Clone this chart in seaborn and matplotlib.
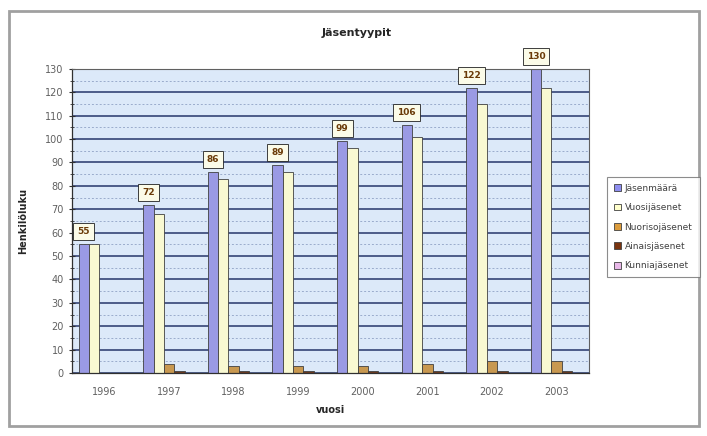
import pandas as pd
import numpy as np
import seaborn as sns
import matplotlib.pyplot as plt
from matplotlib.patches import Rectangle
from matplotlib.ticker import MultipleLocator, FixedLocator

# Data
vuodet = ['1996', '1997', '1998', '1999', '2000', '2001', '2002', '2003']
jasenmaara = [55, 72, 86, 89, 99, 106, 122, 130]
vuosijasenet = [55, 68, 83, 86, 96, 101, 115, 122]
nuorisojasenet = [0, 4, 3, 3, 3, 4, 5, 5]
ainaisjasenet = [0, 1, 1, 1, 1, 1, 1, 1]
kunniajasenet = [0, 0, 0, 0, 0, 0, 0, 0]

tyypit = ['Jäsenmäärä', 'Vuosijäsenet', 'Nuorisojäsenet', 'Ainaisjäsenet', 'Kunniajäsenet']
varit = ['#8e8ef0', '#ffffcc', '#dc9c3c', '#7a3510', '#e8b8e8']

sarjat = [jasenmaara, vuosijasenet, nuorisojasenet, ainaisjasenet, kunniajasenet]
df = pd.DataFrame({
    'vuosi': vuodet * len(tyypit),
    'tyyppi': np.repeat(tyypit, len(vuodet)),
    'arvo': np.concatenate(sarjat),
})

sns.set_style('white')
plt.rcParams['font.family'] = ['DejaVu Sans']

fig = plt.figure(figsize=(7.07, 4.36), dpi=100)
ax = fig.add_axes([0.102, 0.1445, 0.731, 0.6975])

# outer chart frame
fig.patches.append(Rectangle((9 / 707, 10 / 436), 690 / 707, 415 / 436, transform=fig.transFigure,
                             fill=False, edgecolor='#a0a0a0', linewidth=2.0))

sns.barplot(data=df, x='vuosi', y='arvo', hue='tyyppi', hue_order=tyypit, palette=varit,
            width=0.8, edgecolor='#404040', linewidth=0.6, ax=ax, legend=False)

ax.set_facecolor('#dce9f9')
ax.set_xlim(-0.5, 7.5)
ax.set_ylim(0, 130)
ax.yaxis.set_major_locator(MultipleLocator(10))
ax.yaxis.set_minor_locator(MultipleLocator(5))
ax.grid(axis='y', which='major', color='#26366a', linewidth=1.1)
ax.grid(axis='y', which='minor', color='#9aaccc', linewidth=0.7, linestyle=(0, (2, 2)))
ax.set_axisbelow(True)

# category boundaries as ticks, labels at centres
ax.xaxis.set_major_locator(FixedLocator(np.arange(-0.5, 8, 1)))
ax.xaxis.set_minor_locator(FixedLocator(np.arange(0, 8)))
ax.set_xticklabels([''] * 9)
ax.set_xticklabels(vuodet, minor=True)
ax.tick_params(axis='x', which='major', length=4, direction='inout', color='#303030')
ax.tick_params(axis='x', which='minor', length=0, pad=10, labelsize=7, labelcolor='#606060')
ax.tick_params(axis='y', which='major', length=5, direction='inout', labelsize=7,
               labelcolor='#606060', color='#303030', left=True)
ax.tick_params(axis='y', which='minor', length=3, direction='inout', color='#303030', left=True)

for s in ['left', 'bottom']:
    ax.spines[s].set_color('#303030')
    ax.spines[s].set_linewidth(0.9)
for s in ['top', 'right']:
    ax.spines[s].set_color('#606060')
    ax.spines[s].set_linewidth(0.8)

# data labels above the first series
for bar, v in zip(ax.containers[0], jasenmaara):
    x = bar.get_x() + bar.get_width() / 2
    ax.annotate(str(v), (x, v), xytext=(0, 9), textcoords='offset points',
                ha='center', va='center', fontsize=6.5, fontweight='bold', color='#6a3a08',
                annotation_clip=False,
                bbox=dict(boxstyle='square,pad=0.45', facecolor='#fbfbe8', edgecolor='#202020',
                          linewidth=0.6))

ax.set_xlabel('vuosi', fontsize=7, fontweight='bold', labelpad=6)
ax.set_ylabel('Henkilöluku', fontsize=7, fontweight='bold', labelpad=12)
fig.text(0.505, 0.924, 'Jäsentyypit', ha='center', va='center', fontsize=8, fontweight='bold')

handles = [Rectangle((0, 0), 1, 1, facecolor=c, edgecolor='#404040', linewidth=0.6) for c in varit]
leg = fig.legend(handles, tyypit, loc='upper left', bbox_to_anchor=(602 / 707, 1 - 172 / 436),
                 fontsize=6.5, frameon=True, fancybox=False, edgecolor='#707070',
                 handlelength=0.8, handleheight=0.8, handletextpad=0.4, labelspacing=1.15,
                 borderpad=0.8, labelcolor='#404040')
leg.get_frame().set_linewidth(0.8)

fig.savefig('out.png', dpi=100)
